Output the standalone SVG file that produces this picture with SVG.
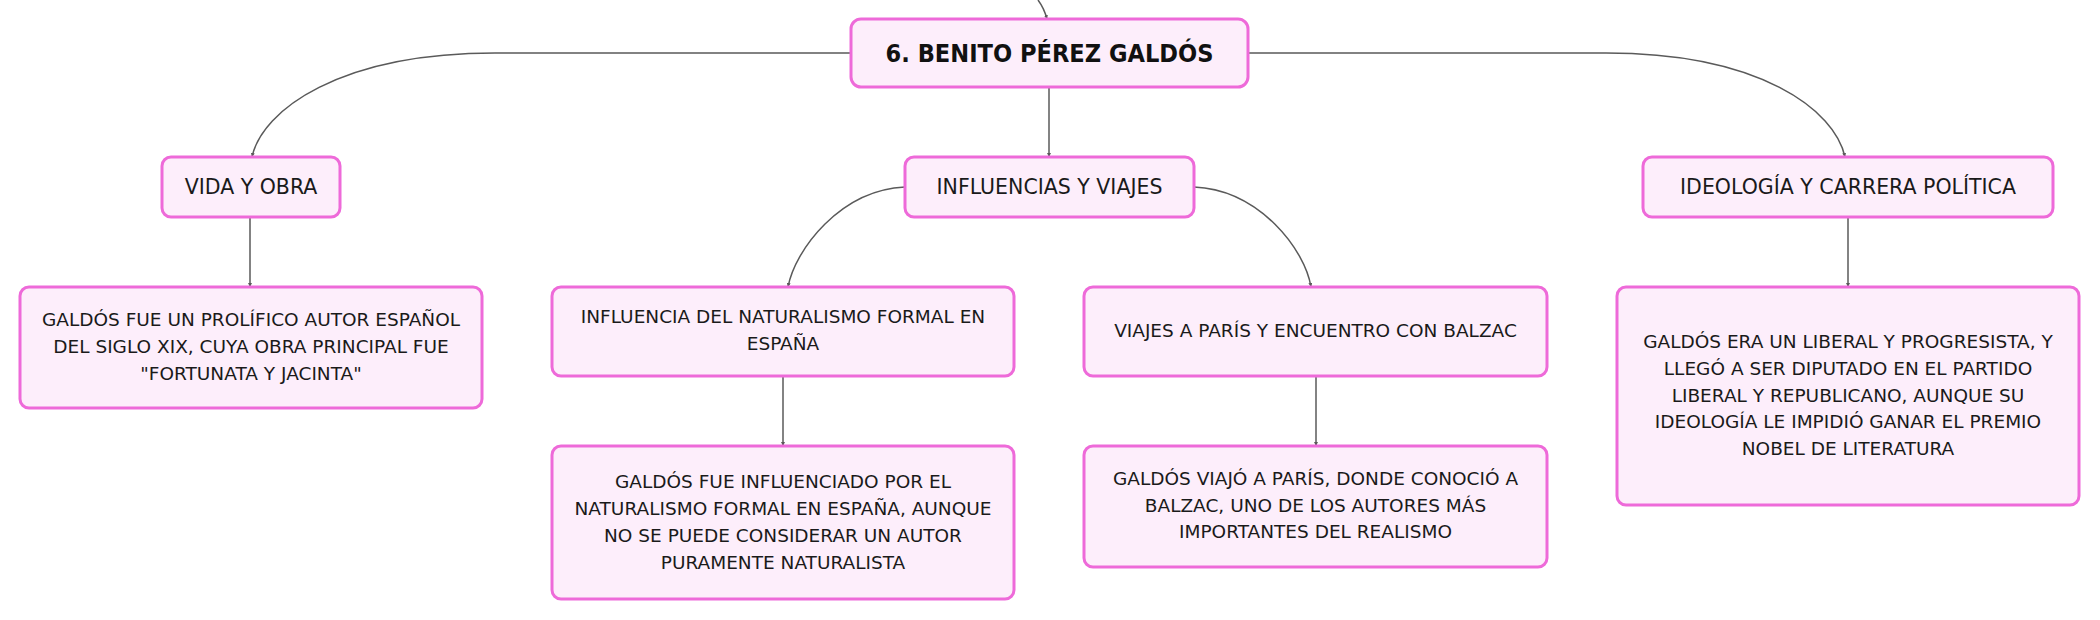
<svg xmlns="http://www.w3.org/2000/svg" width="2100" height="620" viewBox="0 0 2100 620">
<defs>
<style>
.box{fill:#fdeefb;stroke:#ee6ad9;stroke-width:3}
.t{font-family:"DejaVu Sans","Liberation Sans",sans-serif;font-size:18.5px;fill:#1a1a1a;text-anchor:middle}
.h{font-family:"DejaVu Sans","Liberation Sans",sans-serif;font-size:20.5px;fill:#1a1a1a;text-anchor:middle}
.root{font-family:"DejaVu Sans","Liberation Sans",sans-serif;font-size:24px;font-weight:bold;fill:#111;text-anchor:middle}
.c{fill:none;stroke:#5a5a5a;stroke-width:1.5}
</style>
<marker id="ah" viewBox="0 0 6 6" refX="6" refY="3" markerWidth="4" markerHeight="4" markerUnits="userSpaceOnUse" orient="auto">
<path d="M0,0 L6,3 L0,6 z" fill="#5a5a5a"/>
</marker>
</defs>
<rect width="2100" height="620" fill="#ffffff"/>
<g id="connectors">
<path class="c" d="M1038,0 Q1044,8 1047,19" marker-end="url(#ah)"/>
<path class="c" d="M851,53 L495,53 C340,53 262,110 252,157" marker-end="url(#ah)"/>
<path class="c" d="M1049,87 L1049,157" marker-end="url(#ah)"/>
<path class="c" d="M1248,53 L1606,53 C1760,53 1835,110 1845,157" marker-end="url(#ah)"/>
<path class="c" d="M905,187 C840,190 795,250 788,287" marker-end="url(#ah)"/>
<path class="c" d="M1194,187 C1260,190 1305,250 1311,287" marker-end="url(#ah)"/>
<path class="c" d="M250,217 L250,287" marker-end="url(#ah)"/>
<path class="c" d="M783,376 L783,446" marker-end="url(#ah)"/>
<path class="c" d="M1316,376 L1316,446" marker-end="url(#ah)"/>
<path class="c" d="M1848,217 L1848,287" marker-end="url(#ah)"/>
</g>
<g id="root">
<rect class="box" x="851" y="19" width="397" height="68" rx="10"/>
<text class="root" x="1049.5" y="62" textLength="328" lengthAdjust="spacingAndGlyphs">6. BENITO PÉREZ GALDÓS</text>
</g>
<g id="vida">
<rect class="box" x="162" y="157" width="178" height="60" rx="9"/>
<text class="h" x="251" y="194">VIDA Y OBRA</text>
</g>
<g id="influencias">
<rect class="box" x="905" y="157" width="289" height="60" rx="9"/>
<text class="h" x="1049.5" y="194">INFLUENCIAS Y VIAJES</text>
</g>
<g id="ideologia">
<rect class="box" x="1643" y="157" width="410" height="60" rx="9"/>
<text class="h" x="1848" y="194">IDEOLOGÍA Y CARRERA POLÍTICA</text>
</g>
<g id="vida-detalle">
<rect class="box" x="20" y="287" width="462" height="121" rx="9"/>
<text class="t" x="251" y="326">GALDÓS FUE UN PROLÍFICO AUTOR ESPAÑOL</text>
<text class="t" x="251" y="353">DEL SIGLO XIX, CUYA OBRA PRINCIPAL FUE</text>
<text class="t" x="251" y="380">"FORTUNATA Y JACINTA"</text>
</g>
<g id="naturalismo">
<rect class="box" x="552" y="287" width="462" height="89" rx="9"/>
<text class="t" x="783" y="323">INFLUENCIA DEL NATURALISMO FORMAL EN</text>
<text class="t" x="783" y="350">ESPAÑA</text>
</g>
<g id="naturalismo-detalle">
<rect class="box" x="552" y="446" width="462" height="153" rx="9"/>
<text class="t" x="783" y="488">GALDÓS FUE INFLUENCIADO POR EL</text>
<text class="t" x="783" y="515">NATURALISMO FORMAL EN ESPAÑA, AUNQUE</text>
<text class="t" x="783" y="542">NO SE PUEDE CONSIDERAR UN AUTOR</text>
<text class="t" x="783" y="569">PURAMENTE NATURALISTA</text>
</g>
<g id="viajes">
<rect class="box" x="1084" y="287" width="463" height="89" rx="9"/>
<text class="t" x="1315.5" y="337">VIAJES A PARÍS Y ENCUENTRO CON BALZAC</text>
</g>
<g id="viajes-detalle">
<rect class="box" x="1084" y="446" width="463" height="121" rx="9"/>
<text class="t" x="1315.5" y="485">GALDÓS VIAJÓ A PARÍS, DONDE CONOCIÓ A</text>
<text class="t" x="1315.5" y="512">BALZAC, UNO DE LOS AUTORES MÁS</text>
<text class="t" x="1315.5" y="538">IMPORTANTES DEL REALISMO</text>
</g>
<g id="ideologia-detalle">
<rect class="box" x="1617" y="287" width="462" height="218" rx="9"/>
<text class="t" x="1848" y="348">GALDÓS ERA UN LIBERAL Y PROGRESISTA, Y</text>
<text class="t" x="1848" y="375">LLEGÓ A SER DIPUTADO EN EL PARTIDO</text>
<text class="t" x="1848" y="402">LIBERAL Y REPUBLICANO, AUNQUE SU</text>
<text class="t" x="1848" y="428">IDEOLOGÍA LE IMPIDIÓ GANAR EL PREMIO</text>
<text class="t" x="1848" y="455">NOBEL DE LITERATURA</text>
</g>
</svg>
